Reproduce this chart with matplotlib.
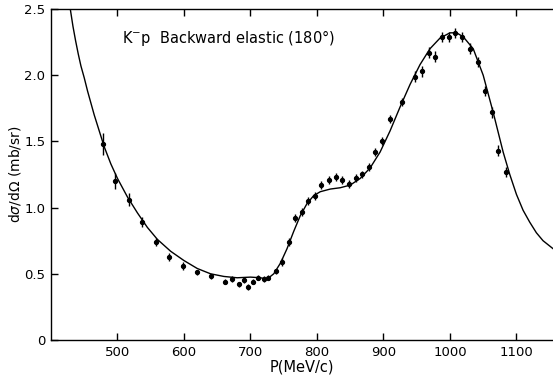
#!/usr/bin/env python3

import numpy as np
import matplotlib
matplotlib.use("Agg")
import matplotlib.pyplot as plt

# measured points (momentum, cross section, error)
p_data = [478, 497, 518, 537, 558, 578, 598, 620, 641, 661, 672, 682, 690, 697,
          704, 712, 720, 727, 738, 748, 758, 767, 777, 787, 797, 806, 818, 828,
          837, 848, 858, 868, 878, 888, 898, 910, 928, 948, 958, 968, 978, 988,
          998, 1008, 1018, 1030, 1042, 1053, 1063, 1073, 1085]
xs_data = [1.48, 1.20, 1.06, 0.89, 0.74, 0.63, 0.56, 0.51, 0.48, 0.44, 0.46, 0.42,
           0.45, 0.40, 0.44, 0.47, 0.46, 0.47, 0.52, 0.59, 0.74, 0.92, 0.97, 1.05,
           1.09, 1.17, 1.21, 1.23, 1.21, 1.18, 1.22, 1.25, 1.31, 1.42, 1.50, 1.67,
           1.80, 1.99, 2.03, 2.17, 2.14, 2.29, 2.29, 2.32, 2.29, 2.20, 2.10, 1.88,
           1.72, 1.43, 1.27]
err_data = [0.08, 0.06, 0.05, 0.04, 0.03, 0.03, 0.03, 0.02, 0.02, 0.02, 0.02, 0.02,
            0.02, 0.02, 0.02, 0.02, 0.02, 0.02, 0.02, 0.03, 0.03, 0.03, 0.03, 0.03,
            0.03, 0.03, 0.03, 0.03, 0.03, 0.03, 0.03, 0.03, 0.03, 0.03, 0.03, 0.03,
            0.03, 0.04, 0.04, 0.04, 0.04, 0.04, 0.04, 0.04, 0.04, 0.04, 0.04, 0.04,
            0.04, 0.04, 0.04]

# fitted curve
p_fit = [429, 433, 437, 441, 445, 450, 455, 460, 465, 470, 475, 480, 490, 500,
         515, 530, 545, 560, 580, 600, 620, 640, 660, 680, 700, 715, 725, 735,
         745, 755, 765, 775, 785, 795, 805, 820, 835, 850, 865, 880, 895, 910,
         925, 940, 955, 970, 985, 1000, 1010, 1020, 1035, 1050, 1065, 1080, 1090,
         1100, 1110, 1120, 1130, 1140, 1150, 1160]
xs_fit = [2.50, 2.37, 2.26, 2.16, 2.07, 1.98, 1.88, 1.79, 1.70, 1.62, 1.54, 1.46,
          1.33, 1.22, 1.08, 0.96, 0.85, 0.76, 0.67, 0.60, 0.54, 0.50, 0.48, 0.47,
          0.475, 0.47, 0.46, 0.50, 0.58, 0.69, 0.82, 0.94, 1.03, 1.09, 1.12, 1.14,
          1.15, 1.17, 1.22, 1.30, 1.42, 1.58, 1.76, 1.93, 2.08, 2.20, 2.28, 2.32,
          2.32, 2.29, 2.20, 2.00, 1.72, 1.42, 1.25, 1.10, 0.98, 0.89, 0.81, 0.75,
          0.71, 0.67]

x_ticks = [500, 600, 700, 800, 900, 1000, 1100]
y_ticks = [0, 0.5, 1.0, 1.5, 2.0, 2.5]
y_ticklabels = ["0", "0.5", "1.0", "1.5", "2.0", "2.5"]


def main():
    plt.rcParams['font.family'] = ['DejaVu Sans']
    plt.rcParams['mathtext.fontset'] = 'dejavusans'

    fig = plt.figure(figsize=(5.53, 3.75), dpi=100)
    ax = fig.add_axes([51 / 553, 35 / 375, 1 - 51 / 553, 331 / 375])

    ax.plot(p_fit, xs_fit, color='black', linewidth=1.0)
    ax.errorbar(p_data, xs_data, yerr=err_data, fmt='o', color='black',
                markersize=2.8, elinewidth=1.0, capsize=0)

    ax.set_xlim(400, 1155)
    ax.set_ylim(0, 2.5)
    ax.set_xticks(x_ticks)
    ax.set_yticks(y_ticks)
    ax.set_yticklabels(y_ticklabels)
    ax.tick_params(direction='in', length=5, width=1, labelsize=9.5,
                   top=True, right=False, pad=4)
    ax.spines['right'].set_visible(False)
    for s in ['left', 'bottom', 'top']:
        ax.spines[s].set_linewidth(1.0)

    ax.set_xlabel('P(MeV/c)', fontsize=10.5, labelpad=1)
    ax.set_ylabel(r'd$\sigma$/d$\Omega$ (mb/sr)', fontsize=10)
    ax.yaxis.set_label_coords(-0.056, 0.5)

    ax.text(0.141, 0.912, r'K$^{-}$p  Backward elastic (180°)',
            transform=ax.transAxes, fontsize=10.5, va='center', ha='left')

    fig.savefig('out.png', dpi=100)


if __name__ == "__main__":
    main()
